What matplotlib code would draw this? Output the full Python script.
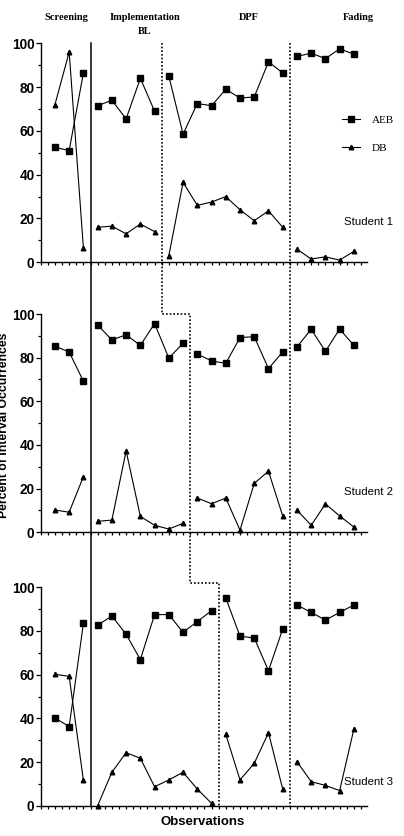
import numpy as np
import matplotlib
matplotlib.use("Agg")
import matplotlib.pyplot as plt
from matplotlib.lines import Line2D

# -----------------------------
# data
# -----------------------------
phases = ["Screening", "Implementation", "DPF", "Fading"]

# student 1: screening 3, BL 5, DPF 9, fading 5
s1_aeb = [52.5, 51, 86.5,
          71.5, 74, 65.5, 84, 69,
          85, 58.5, 72.5, 71.5, 79, 75, 75.5, 91.5, 86.5,
          94, 95.5, 93, 97.5, 95]
s1_db = [72, 96, 6.5,
         16, 16.5, 13, 17.5, 14,
         3, 36.5, 26, 27.5, 30, 24, 19, 23.5, 16,
         6, 1.5, 2.5, 1, 5]
s1_sizes = [3, 5, 9, 5]

# student 2: screening 3, BL 7, DPF 7, fading 5
s2_aeb = [85.3, 82.6, 69.2,
          95, 88.1, 90.5, 85.6, 95.6, 79.8, 86.6,
          81.7, 78.5, 77.4, 89.2, 89.6, 75, 82.6,
          84.9, 93, 82.9, 93.1, 85.6]
s2_db = [10.2, 9.2, 25.5,
         5, 5.6, 37.3, 7.3, 3.2, 1.5, 4.1,
         15.7, 13.1, 15.7, 1, 22.4, 28, 7.5,
         10.2, 3.2, 13, 7.5, 2.4]
s2_sizes = [3, 7, 7, 5]

# student 3: screening 3, BL 9, DPF 5, fading 5
s3_aeb = [40.2, 36.2, 83.5,
          82.6, 86.9, 78.5, 66.9, 87.5, 87.5, 79.4, 84.3, 89.3,
          95.1, 77.6, 76.8, 61.8, 80.9,
          91.9, 88.5, 85, 88.5, 91.9]
s3_db = [60.2, 59.2, 11.6,
         0, 15.3, 24.3, 21.7, 8.7, 11.8, 15.3, 7.6, 1.1,
         32.7, 11.8, 19.4, 33.4, 7.6,
         20.2, 11, 9.3, 6.9, 35.1]
s3_sizes = [3, 9, 5, 5]

students = ["Student 1", "Student 2", "Student 3"]

sans = "Liberation Sans"
serif = "Liberation Serif"

fig = plt.figure(figsize=(4.04, 8.36), dpi=100)
W, H = 404, 836


def fig_rect(left, top, right, bottom):
    return [left / W, 1 - bottom / H, (right - left) / W, (bottom - top) / H]


rects = [fig_rect(40.7, 43.3, 366.7, 262.3),
         fig_rect(40.7, 314.0, 366.7, 532.3),
         fig_rect(40.7, 587.3, 366.7, 805.7)]

all_aeb = [s1_aeb, s2_aeb, s3_aeb]
all_db = [s1_db, s2_db, s3_db]
all_sizes = [s1_sizes, s2_sizes, s3_sizes]
label_y = [222, 492, 782]

axes = []
for k in range(3):
    ax = fig.add_axes(rects[k])
    axes.append(ax)
    aeb = np.array(all_aeb[k])
    db = np.array(all_db[k])
    x = np.arange(1, len(aeb) + 1)
    start = 0
    for n in all_sizes[k]:
        sl = slice(start, start + n)
        ax.plot(x[sl], aeb[sl], color="black", lw=0.8, marker="s", ms=3.8,
                clip_on=False, label="AEB" if start == 0 else None)
        ax.plot(x[sl], db[sl], color="black", lw=0.8, marker="^", ms=3.3,
                clip_on=False, label="DB" if start == 0 else None)
        start += n

    ax.set_xlim(0, 22.9)
    ax.set_ylim(0, 100)
    for s in ["top", "right"]:
        ax.spines[s].set_visible(False)
    for s in ["left", "bottom"]:
        ax.spines[s].set_linewidth(1.0)
    ax.set_yticks(np.arange(0, 101, 20))
    ax.set_yticks(np.arange(10, 100, 20), minor=True)
    ax.set_xticks(np.arange(0, 23, 1))
    ax.set_xticks(np.arange(0.5, 23, 1), minor=True)
    ax.set_xticklabels([])
    ax.tick_params(axis="y", which="major", length=3.5, width=0.9, pad=1,
                   labelsize=9.8)
    ax.tick_params(axis="y", which="minor", length=2.5, width=0.9)
    ax.tick_params(axis="x", which="both", length=2.5, width=0.9)
    for t in ax.get_yticklabels():
        t.set_fontfamily(sans)
        t.set_fontweight("bold")
    fig.text(368 / W, 1 - label_y[k] / H, students[k], ha="center",
             va="center", fontsize=8.2, family=sans)

ax1, ax2, ax3 = axes

leg = ax1.legend(loc="center", bbox_to_anchor=(368 / W, 1 - 134 / H),
                 bbox_transform=fig.transFigure, frameon=False,
                 prop={"family": serif, "size": 8}, handlelength=1.6,
                 handletextpad=1.1, labelspacing=1.6)


# -----------------------------
# phase change lines across panels
# -----------------------------
def phase_line(points, **kw):
    inv = fig.transFigure.inverted()
    pts = [inv.transform(a.transData.transform((px, py))) for a, px, py in points]
    pts = np.array(pts)
    fig.add_artist(Line2D(pts[:, 0], pts[:, 1], color="black", **kw))


phase_line([(ax1, 3.5, 100), (ax3, 3.5, 0)], lw=1.1)
phase_line([(ax1, 8.5, 100), (ax2, 8.5, 100), (ax2, 10.5, 100),
            (ax3, 10.5, 102), (ax3, 12.5, 102), (ax3, 12.5, 0)],
           lw=1.2, ls=(0, (1, 1.2)))
phase_line([(ax1, 17.5, 100), (ax3, 17.5, 0)], lw=1.2, ls=(0, (1, 1.2)))

# phase headers
header_x = [66, 145, 249, 358]
for hx, name in zip(header_x, phases):
    fig.text(hx / W, 1 - 18 / H, name, ha="center", va="center", fontsize=7.5,
             family=serif, fontweight="bold")
fig.text(145 / W, 1 - 32 / H, "BL", ha="center", va="center", fontsize=7.5,
         family=serif, fontweight="bold")

fig.text(10.5 / W, 1 - 425 / H, "Percent of Interval Occurrences", rotation=90,
         ha="right", va="center", fontsize=8.8, family=sans, fontweight="bold")
fig.text(203 / W, 1 - 822 / H, "Observations", ha="center", va="center",
         fontsize=9.5, family=sans, fontweight="bold")

fig.savefig("out.png", dpi=100)
